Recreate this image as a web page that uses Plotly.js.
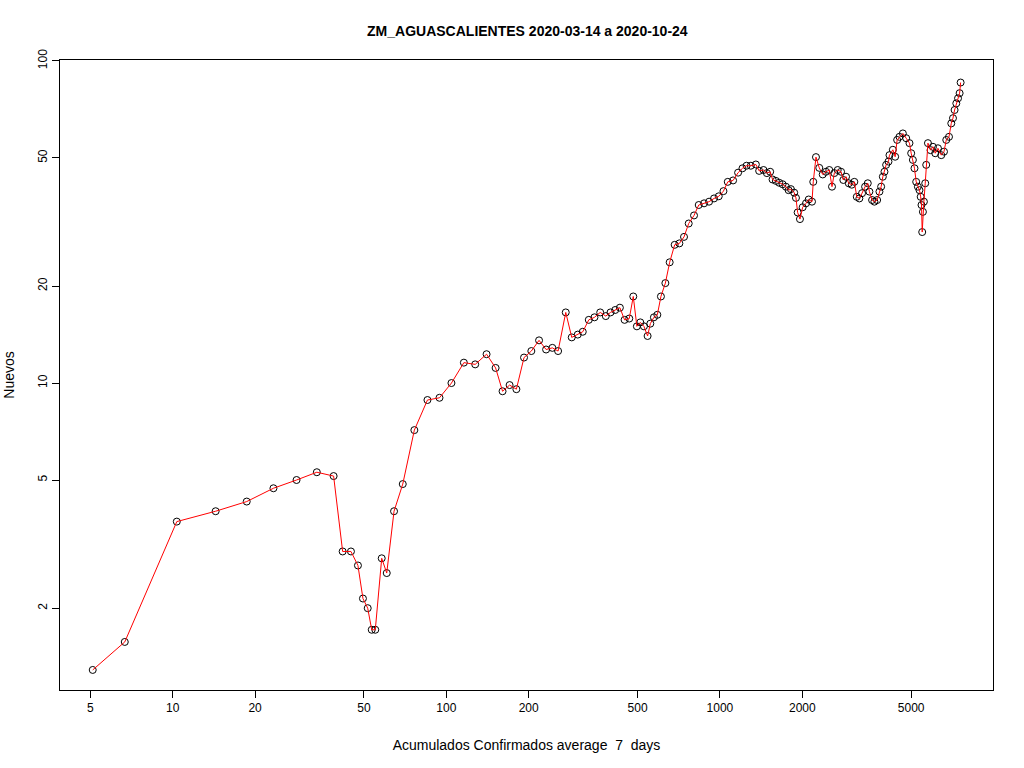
<!DOCTYPE html>
<html>
<head>
<meta charset="utf-8">
<script src="https://cdn.plot.ly/plotly-3.0.1.min.js"></script>
<style>
  body { margin: 0; background: #fff; }
  #chart { width: 1024px; height: 768px; }
</style>
</head>
<body>
<div id="chart"></div>
<script>
// Acumulados confirmados (promedio 7 dias)
let acumulados = [
  5.10, 6.68, 10.35, 14.35, 18.64, 23.34, 28.35, 33.63, 38.73, 41.78,
  44.81, 47.53, 49.57, 51.6, 53.37, 55.0, 58.05, 60.56, 64.4, 69.3,
  76.4, 85.3, 94.4, 104.4, 115.9, 127.5, 140.3, 151.4, 160.5, 170.3,
  180.3, 192.3, 204.5, 218.2, 231.5, 244.1, 256.1, 273.2, 287.3, 302.2,
  315.2, 331.6, 347.9, 365.1, 382.7, 398.2, 414.3, 430.8, 448.2, 466.3,
  482.2, 497.1, 511.6, 527.4, 544.0, 556.6, 573.7, 590.5, 608.6, 631.7,
  655.0, 683.2, 710.8, 739.0, 768.9, 804.0, 836.5, 874.9, 912.5, 951.7,
  990.1, 1030, 1068, 1117, 1165, 1209, 1251, 1297, 1353, 1391,
  1443, 1484, 1526, 1557, 1601, 1647, 1694, 1742, 1782, 1817,
  1868, 1896, 1923, 1961, 2006, 2063, 2110, 2170, 2193, 2244,
  2307, 2375, 2441, 2510, 2568, 2618, 2694, 2771, 2825, 2890,
  2957, 3033, 3099, 3163, 3233, 3307, 3392, 3470, 3518, 3598,
  3669, 3754, 3828, 3883, 3939, 3993, 4050, 4130, 4165, 4285,
  4369, 4443, 4530, 4662, 4794, 4929, 5000, 5072, 5141, 5215,
  5290, 5362, 5417, 5453, 5486, 5519, 5565, 5627, 5674, 5757,
  5884, 6005, 6122, 6264, 6441, 6590, 6718, 6873, 7007, 7108,
  7205, 7309, 7416, 7516, 7580
];

// Nuevos (promedio 7 dias)
let nuevos = [
  1.286, 1.571, 3.714, 4.0, 4.286, 4.714, 5.0, 5.286, 5.143, 3.0,
  3.0, 2.714, 2.143, 2.0, 1.714, 1.714, 2.857, 2.571, 4.0, 4.857,
  7.143, 8.857, 9.0, 10.0, 11.57, 11.43, 12.29, 11.14, 9.43, 9.857,
  9.571, 12.0, 12.57, 13.57, 12.71, 12.86, 12.57, 16.57, 13.86, 14.14,
  14.43, 15.71, 16.0, 16.57, 16.14, 16.57, 16.86, 17.14, 15.71, 15.86,
  18.57, 15.0, 15.43, 15.0, 14.0, 15.29, 16.0, 16.29, 18.57, 20.43,
  23.71, 26.86, 27.14, 28.43, 31.29, 33.14, 35.71, 36.14, 36.57, 37.43,
  38.0, 39.43, 42.14, 42.57, 45.0, 46.43, 47.29, 47.29, 47.71, 45.57,
  45.86, 44.86, 45.29, 42.86, 42.43, 41.86, 41.43, 40.71, 39.71, 40.0,
  39.0, 37.57, 33.86, 32.29, 35.14, 36.14, 37.14, 36.57, 42.14, 50.29,
  46.57, 44.43, 45.29, 45.86, 40.71, 44.86, 45.86, 45.29, 42.71, 43.71,
  41.71, 41.29, 42.14, 37.86, 37.43, 38.86, 40.71, 41.71, 39.29, 37.0,
  36.57, 37.0, 39.29, 40.71, 43.71, 45.29, 47.57, 48.71, 51.0, 53.0,
  50.43, 56.86, 58.14, 59.57, 57.57, 55.57, 51.71, 49.29, 46.43, 42.14,
  40.71, 39.71, 37.86, 35.71, 29.43, 34.0, 36.57, 41.71, 47.57, 55.57,
  52.86, 54.14, 51.71, 53.57, 51.0, 52.29, 56.86, 58.14, 64.0, 66.43,
  70.43, 73.86, 76.57, 79.43, 85.71
];

let xTicks = [5, 10, 20, 50, 100, 200, 500, 1000, 2000, 5000];
let yTicks = [2, 5, 10, 20, 50, 100];

let puntos = {
  x: acumulados,
  y: nuevos,
  mode: 'markers',
  type: 'scatter',
  marker: {
    symbol: 'circle-open',
    size: 7,
    color: 'black',
    line: {width: 1, color: 'black'}
  },
  hoverinfo: 'skip',
  showlegend: false
};

let linea = {
  x: acumulados,
  y: nuevos,
  mode: 'lines',
  type: 'scatter',
  line: {color: 'rgb(255,0,0)', width: 1},
  showlegend: false
};

let layout = {
  width: 1024,
  height: 768,
  paper_bgcolor: 'white',
  plot_bgcolor: 'white',
  font: {family: 'Liberation Sans, Arial, sans-serif', size: 12, color: 'black'},
  margin: {l: 60, r: 31, t: 60, b: 78},
  title: {
    text: '<b>ZM_AGUASCALIENTES 2020-03-14 a 2020-10-24</b>',
    font: {size: 14},
    x: 0.515,
    xanchor: 'center',
    y: 0.96,
    yanchor: 'middle'
  },
  xaxis: {
    type: 'log',
    range: [0.588, 3.998],
    tickmode: 'array',
    tickvals: xTicks,
    ticktext: xTicks.map(String),
    ticks: 'outside',
    ticklen: 7,
    tickcolor: 'black',
    showgrid: false,
    zeroline: false,
    showline: true,
    mirror: true,
    linecolor: 'black',
    linewidth: 1,
    automargin: false,
    title: {text: 'Acumulados Confirmados average  7  days', standoff: 25}
  },
  yaxis: {
    type: 'log',
    range: [0.047, 2.003],
    tickmode: 'array',
    tickvals: yTicks,
    ticktext: yTicks.map(String),
    tickangle: -90,
    ticks: 'outside',
    ticklen: 7,
    tickcolor: 'black',
    showgrid: false,
    zeroline: false,
    showline: true,
    mirror: true,
    linecolor: 'black',
    linewidth: 1,
    automargin: false,
    title: {text: 'Nuevos', standoff: 18}
  }
};

Plotly.newPlot('chart', [puntos, linea], layout, {displayModeBar: false, staticPlot: true});
</script>
</body>
</html>
